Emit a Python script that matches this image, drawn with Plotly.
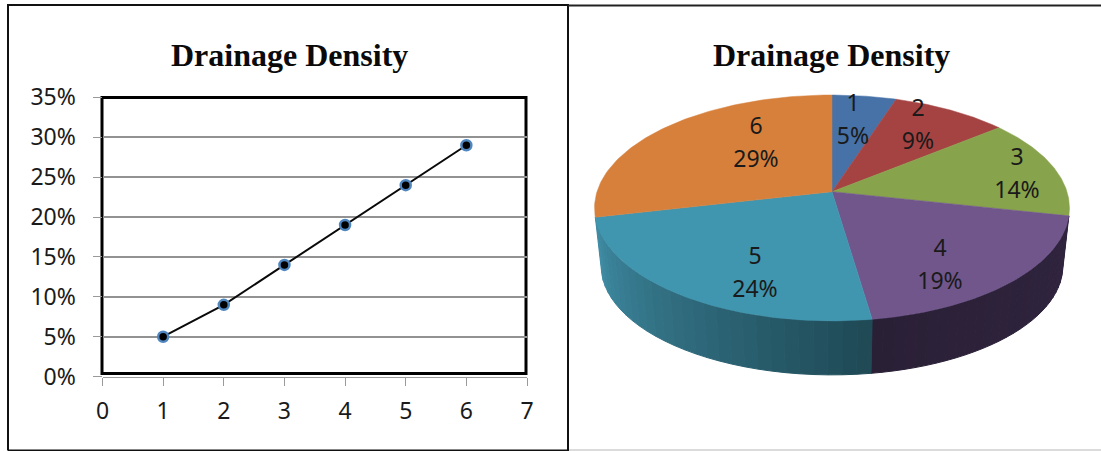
import numpy as np
import plotly.graph_objects as go

# Line chart data
line_x = [1, 2, 3, 4, 5, 6]
line_y = [0.05, 0.09, 0.14, 0.19, 0.24, 0.29]
x_ticks = [0, 1, 2, 3, 4, 5, 6, 7]
y_ticks = [0, 0.05, 0.10, 0.15, 0.20, 0.25, 0.30, 0.35]

# Pie chart data
pie_labels = ["1", "2", "3", "4", "5", "6"]
pie_values = [5, 9, 14, 19, 24, 29]

TOP_COLORS = ["#4672a8", "#a54343", "#87a34b", "#71568c", "#4095af", "#d7803c"]
SIDE_RAMPS = {3: ("#30243f", "#2a2036"), 4: ("#1f4a56", "#3f8ca4")}
LABEL_POS = [(853, 122), (918, 127), (1017, 176), (940, 267), (755, 275), (756, 145)]
LABEL_GAP = 16.5

W, H = 1101, 451
TITLE_FONT = dict(family="Liberation Serif", size=32, color="#0a0a0a")
LABEL_FONT = dict(family="Noto Sans", size=23, color="#1a1a1a")
CX, CY = 832, 191.7


def px_x(x):
    return x / W


def px_y(y):
    return 1 - y / H


def top_rim(theta):
    """Perspective projection of a point on the pie's upper rim (clockwise from 12 o'clock)."""
    theta = theta + 0.042 * (1 - np.cos(theta)) / 2
    w = 1 + 0.144 * np.cos(theta)
    return CX + 235 * np.sin(theta) / w, CY - 110.6 * np.cos(theta) / w


def bottom_rim(theta):
    x, y = top_rim(theta)
    return CX + 0.972 * (x - CX), 250.2 + 0.965 * (y - CY)


def mix(a, b, t):
    ca = [int(a[i:i + 2], 16) for i in (1, 3, 5)]
    cb = [int(b[i:i + 2], 16) for i in (1, 3, 5)]
    return "#%02x%02x%02x" % tuple(round(p + (q - p) * t) for p, q in zip(ca, cb))


fig = go.Figure()

fig.add_trace(go.Scatter(
    x=line_x, y=line_y, mode="lines+markers",
    line=dict(color="#0a0a0a", width=2),
    marker=dict(color="#000000", size=10, line=dict(color="#4f86c0", width=2.5)),
    xaxis="x", yaxis="y", showlegend=False, cliponaxis=False,
))

# Pie: side wall bands first, then the top faces
edges = 2 * np.pi * np.cumsum([0] + pie_values) / sum(pie_values)
for i, ramp in SIDE_RAMPS.items():
    n = 28
    steps = np.linspace(edges[i], edges[i + 1], n + 1)
    for k in range(n):
        t = np.linspace(steps[k], steps[k + 1], 4)
        xa, ya = top_rim(t)
        xb, yb = bottom_rim(t[::-1])
        color = mix(ramp[0], ramp[1], k / (n - 1))
        fig.add_trace(go.Scatter(
            x=np.r_[xa, xb, xa[0]], y=np.r_[ya, yb, ya[0]],
            mode="lines", fill="toself", fillcolor=color,
            line=dict(color=color, width=1),
            xaxis="x2", yaxis="y2", showlegend=False, hoverinfo="skip",
        ))

for i, color in enumerate(TOP_COLORS):
    t = np.linspace(edges[i], edges[i + 1], 90)
    xa, ya = top_rim(t)
    fig.add_trace(go.Scatter(
        x=np.r_[CX, xa, CX], y=np.r_[CY, ya, CY],
        mode="lines", fill="toself", fillcolor=color,
        line=dict(color=color, width=0.5),
        xaxis="x2", yaxis="y2", showlegend=False,
        name=pie_labels[i], hoverinfo="name",
    ))

# Slice captions: category on one row, percentage on the next
for offset, row in ((-LABEL_GAP, pie_labels), (LABEL_GAP, [f"{v}%" for v in pie_values])):
    fig.add_trace(go.Scatter(
        x=[p[0] for p in LABEL_POS], y=[p[1] + offset for p in LABEL_POS],
        mode="text", textposition="middle center", text=row,
        textfont=LABEL_FONT, xaxis="x2", yaxis="y2", showlegend=False, hoverinfo="skip",
    ))

shapes = [
    # Plot frame of the line chart
    dict(type="rect", xref="paper", yref="paper", layer="below",
         x0=px_x(102), x1=px_x(526), y0=px_y(373.5), y1=px_y(97.5),
         line=dict(color="#000000", width=3)),
    # Panel outlines
    dict(type="path", xref="paper", yref="paper", layer="above",
         path=f"M {px_x(8)} {px_y(450.5)} L {px_x(8)} {px_y(5)} L {px_x(568)} {px_y(5)} "
              f"L {px_x(568)} {px_y(450.5)} L {px_x(8)} {px_y(450.5)}",
         line=dict(color="#111111", width=2)),
    dict(type="line", xref="paper", yref="paper", layer="above",
         x0=px_x(568), x1=1, y0=px_y(5.5), y1=px_y(5.5),
         line=dict(color="#222222", width=2)),
    dict(type="line", xref="paper", yref="paper", layer="above",
         x0=px_x(569), x1=1, y0=px_y(450), y1=px_y(450),
         line=dict(color="#cfcfcf", width=1.5)),
]

annotations = [
    dict(text="<b>Drainage Density</b>", xref="paper", yref="paper",
         x=px_x(cx), y=px_y(55), xanchor="center", yanchor="middle",
         showarrow=False, font=TITLE_FONT)
    for cx in (289, 831)
]

fig.update_layout(
    width=W, height=H, autosize=False,
    margin=dict(l=0, r=0, t=0, b=0, pad=0, autoexpand=False),
    paper_bgcolor="white", plot_bgcolor="rgba(0,0,0,0)",
    shapes=shapes, annotations=annotations, showlegend=False,
    xaxis=dict(
        domain=[px_x(102.5), px_x(527)], range=[0, 7], tickvals=x_ticks,
        showgrid=False, zeroline=False, showline=True, linecolor="#9a9a9a", linewidth=1,
        ticks="outside", ticklen=8, tickcolor="#9a9a9a", ticklabelstandoff=6,
        tickfont=LABEL_FONT, anchor="y", automargin=False,
    ),
    yaxis=dict(
        domain=[px_y(376.6), px_y(97.4)], range=[0, 0.35], tickvals=y_ticks, tickformat=".0%",
        showgrid=True, gridcolor="#929292", gridwidth=2, zeroline=False,
        showline=False, ticks="outside", ticklen=9, tickcolor="#9a9a9a",
        ticklabelstandoff=12, tickfont=LABEL_FONT, anchor="x", automargin=False,
    ),
    xaxis2=dict(domain=[px_x(570), 1], range=[570, 1101], visible=False, anchor="y2"),
    yaxis2=dict(domain=[0, 1], range=[451, 0], visible=False, anchor="x2"),
)

fig.write_html("out.html")
